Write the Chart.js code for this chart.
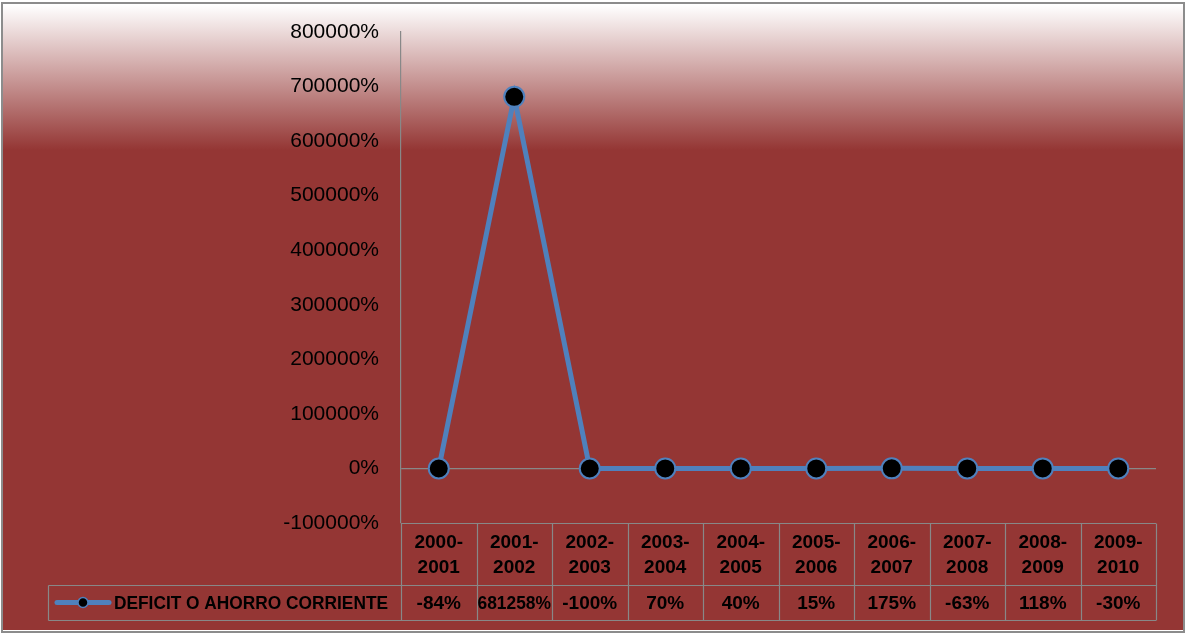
<!DOCTYPE html>
<html lang="es">
<head>
  <meta charset="UTF-8">
  <title>Deficit o ahorro corriente</title>
  <style>
    body { margin: 0; background: #ffffff; }
    #wrap { width: 1186px; height: 634px; }
  </style>
  <script src="https://cdn.jsdelivr.net/npm/chart.js"></script>
</head>
<body>
  <div id="wrap"><canvas id="chart" width="1186" height="634"></canvas></div>

  <script>
    // datos
    var periodos = ['2000-2001', '2001-2002', '2002-2003', '2003-2004', '2004-2005',
                    '2005-2006', '2006-2007', '2007-2008', '2008-2009', '2009-2010'];
    var valores = [-84, 681258, -100, 70, 40, 15, 175, -63, 118, -30];
    var etiquetasTabla = ['-84%', '681258%', '-100%', '70%', '40%', '15%', '175%', '-63%', '118%', '-30%'];
    var nombreSerie = 'DEFICIT O AHORRO CORRIENTE';
    var ejeMin = -100000;
    var ejeMax = 800000;
    var ejePaso = 100000;

    var ROJO = '#943634';
    var AZUL = '#4F81BD';
    var GRIS = '#888888';
    var FUENTE = "'Liberation Sans', Arial, sans-serif";

    Chart.defaults.font.family = FUENTE;

    // fondo degradado y marco
    var fondo = {
      id: 'fondo',
      beforeDraw: function (chart) {
        var ctx = chart.ctx;
        ctx.save();
        ctx.fillStyle = '#ffffff';
        ctx.fillRect(0, 0, chart.width, chart.height);
        var g = ctx.createLinearGradient(0, 5, 0, 150);
        g.addColorStop(0, '#ffffff');
        g.addColorStop(1, ROJO);
        ctx.fillStyle = g;
        ctx.fillRect(3, 4, chart.width - 6, 150);
        ctx.fillStyle = ROJO;
        ctx.fillRect(3, 150, chart.width - 6, chart.height - 154);
        ctx.strokeStyle = '#8c8c8c';
        ctx.lineWidth = 2;
        ctx.strokeRect(2, 3, chart.width - 4, chart.height - 5);
        ctx.restore();
      }
    };

    // tabla de datos bajo el gráfico
    var tabla = {
      id: 'tabla',
      afterDraw: function (chart) {
        var ctx = chart.ctx;
        var area = chart.chartArea;
        var xs = chart.scales.x;
        var n = periodos.length;
        var w = (area.right - area.left) / n;
        var top = Math.round(area.bottom) + 0.5;
        var mid = top + 62;
        var bot = mid + 35;
        var leyIzq = 48.5;

        ctx.save();
        ctx.strokeStyle = GRIS;
        ctx.lineWidth = 1.2;
        ctx.beginPath();
        ctx.moveTo(area.left, top); ctx.lineTo(area.right, top);
        ctx.moveTo(leyIzq, mid); ctx.lineTo(area.right, mid);
        ctx.moveTo(leyIzq, bot); ctx.lineTo(area.right, bot);
        ctx.moveTo(leyIzq, mid); ctx.lineTo(leyIzq, bot);
        for (var i = 0; i <= n; i++) {
          var bx = Math.round(area.left + i * w) + 0.5;
          ctx.moveTo(bx, top); ctx.lineTo(bx, bot);
        }
        ctx.stroke();

        ctx.fillStyle = '#000000';
        ctx.font = 'bold 19px ' + FUENTE;
        ctx.textAlign = 'center';
        ctx.textBaseline = 'middle';
        for (var j = 0; j < n; j++) {
          var cx = xs.getPixelForValue(j);
          var partes = periodos[j].split('-');
          ctx.fillText(partes[0] + '-', cx, top + 19);
          ctx.fillText(partes[1], cx, top + 44);
          ctx.fillText(etiquetasTabla[j], cx, mid + 18, w - 2);
        }

        // clave de la leyenda
        var ly = mid + 17;
        ctx.strokeStyle = AZUL;
        ctx.lineWidth = 5;
        ctx.lineCap = 'round';
        ctx.beginPath();
        ctx.moveTo(57, ly); ctx.lineTo(109, ly);
        ctx.stroke();
        ctx.beginPath();
        ctx.arc(83, ly, 5, 0, Math.PI * 2);
        ctx.fillStyle = '#000000';
        ctx.fill();
        ctx.lineWidth = 1.5;
        ctx.stroke();

        ctx.fillStyle = '#000000';
        ctx.textAlign = 'left';
        ctx.fillText(nombreSerie, 114, ly + 1, 274);
        ctx.restore();
      }
    };

    new Chart(document.getElementById('chart').getContext('2d'), {
      type: 'line',
      data: {
        labels: periodos,
        datasets: [{
          label: nombreSerie,
          data: valores,
          borderColor: AZUL,
          borderWidth: 5,
          pointBackgroundColor: '#000000',
          pointBorderColor: AZUL,
          pointBorderWidth: 2,
          pointRadius: 10,
          tension: 0
        }]
      },
      options: {
        responsive: false,
        animation: false,
        layout: { padding: { left: 281, right: 30, top: 32, bottom: 111 } },
        plugins: {
          legend: { display: false },
          tooltip: { enabled: false }
        },
        scales: {
          x: {
            display: false,
            offset: true
          },
          y: {
            min: ejeMin,
            max: ejeMax,
            afterFit: function (s) { s.width = 120; },
            ticks: {
              stepSize: ejePaso,
              padding: 0,
              color: '#000000',
              font: { size: 21 },
              callback: function (v) { return v + '%'; }
            },
            grid: {
              drawTicks: true,
              tickLength: 22,
              tickColor: 'rgba(0,0,0,0)',
              lineWidth: 1.2,
              color: function (c) { return c.tick && c.tick.value === 0 ? GRIS : 'rgba(0,0,0,0)'; }
            },
            border: { color: GRIS, width: 1.2 }
          }
        }
      },
      plugins: [fondo, tabla]
    });
  </script>
</body>
</html>
